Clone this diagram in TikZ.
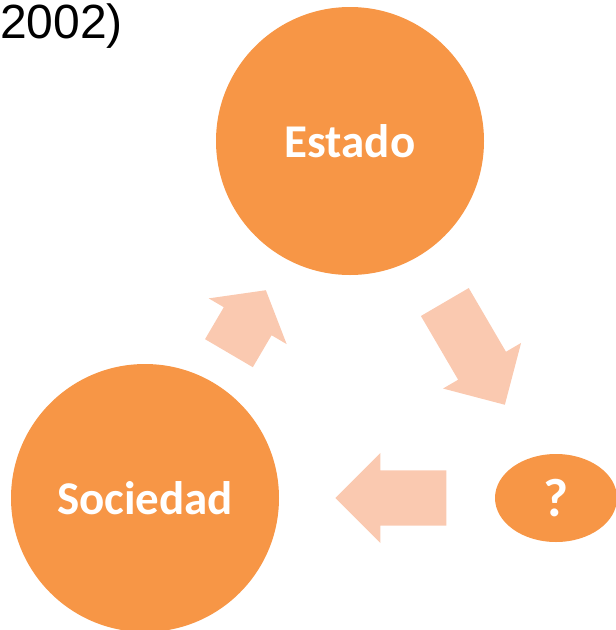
\documentclass[tikz,border=0pt]{standalone}
\usepackage{fontspec}
\setmainfont{Carlito}
\newfontfamily\citefont{Liberation Sans}
\usetikzlibrary{positioning,shapes.geometric,shapes.arrows}
\definecolor{cycleorange}{RGB}{247,150,70}
\definecolor{cyclepeach}{RGB}{250,201,176}
\tikzset{
    phase/.style={
      circle,
      fill=cycleorange,
      minimum size=268pt,
      inner sep=0pt,
      text=white,
      font=\fontsize{47}{52}\selectfont\bfseries,
    },
    flow/.style={
      single arrow,
      fill=cyclepeach,
      inner xsep=0pt,
      inner ysep=27.5pt,
      minimum width=90pt,
      single arrow head extend=17.5pt,
      anchor=tip,
    },
}
\begin{document}
\begin{tikzpicture}[x=1pt,y=-1pt]

    \useasboundingbox (0,0) rectangle (616,630);

    \node[anchor=base west, inner sep=0pt,
    font=\citefont\fontsize{48}{52}\selectfont] (CITE) at (0,38) {2002)};

    \node[phase] (ESTADO) at (350,141) {Estado};

    \node[phase] (SOCIEDAD) at (145,498) {Sociedad};

    \node[phase, ellipse,
    minimum width=122pt, minimum height=88pt,
    font=\fontsize{54}{58}\selectfont\bfseries,
    right of=SOCIEDAD,
    node distance=411pt] (Q) {?};

    \node[flow, rotate=59.6, minimum height=73pt,
    single arrow tip angle=103] (UP) at (266,290) {};

    \node[flow, rotate=-59.7, minimum height=119pt] (DOWN) at (505,405) {};

    \node[flow, rotate=180, minimum height=111pt] (BACK) at (335,498) {};

\end{tikzpicture}
\end{document}
